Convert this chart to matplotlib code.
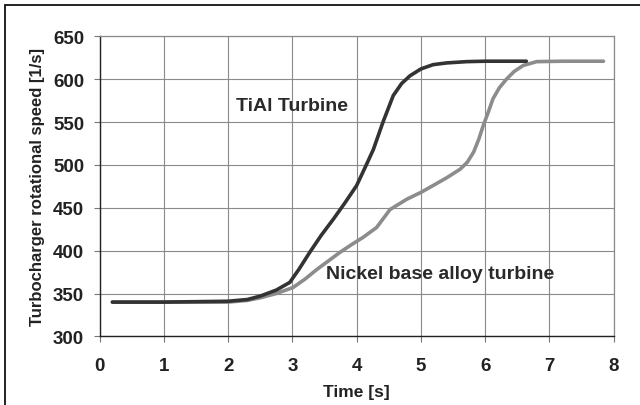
import matplotlib.pyplot as plt
from matplotlib.patches import Rectangle

plt.rcParams['font.family'] = ['Liberation Sans', 'DejaVu Sans']

# TiAl turbine run-up
tial_t = [0.2, 1.0, 2.0, 2.3, 2.5, 2.75, 2.96, 3.1, 3.27, 3.45, 3.64, 3.82, 4.0,
          4.15, 4.26, 4.41, 4.57, 4.7, 4.83, 5.0, 5.19, 5.4, 5.71, 6.0, 6.64]
tial_v = [340, 340, 341, 343, 347, 354, 363, 378, 398, 418, 437, 456, 476,
          500, 518, 550, 581, 595, 604, 612, 617, 619, 620.5, 621, 621]

# Nickel base alloy turbine
ni_t = [0.2, 1.0, 2.0, 2.3, 2.5, 2.75, 3.01, 3.2, 3.38, 3.56, 3.74, 3.92, 4.10,
        4.31, 4.52, 4.78, 5.0, 5.19, 5.4, 5.61, 5.72, 5.82, 5.9, 5.97, 6.05,
        6.12, 6.22, 6.33, 6.45, 6.59, 6.8, 7.2, 7.84]
ni_v = [340, 340, 340, 342, 345, 350, 357, 367, 378, 388, 398, 407, 415.5,
        427, 448, 460, 468, 476, 485, 495, 503, 515, 530, 546, 562,
        577, 590, 600, 609, 616, 620.5, 621, 621]

x_ticks = [0, 1, 2, 3, 4, 5, 6, 7, 8]
y_ticks = [300, 350, 400, 450, 500, 550, 600, 650]

fig = plt.figure(figsize=(6.4, 4.06), dpi=100)
ax = fig.add_axes([0.1555, 0.169, 0.8035, 0.739])

ax.plot(ni_t, ni_v, color='#8c8c8c', lw=2.6, solid_capstyle='round', zorder=3)
ax.plot(tial_t, tial_v, color='#333333', lw=2.6, solid_capstyle='round', zorder=4)

ax.set_xlim(0, 8)
ax.set_ylim(300, 650)
ax.set_xticks(x_ticks)
ax.set_yticks(y_ticks)
ax.grid(True, color='#8a8a8a', lw=0.8)
ax.set_axisbelow(True)

for side in ['top', 'right']:
    ax.spines[side].set_color('#8a8a8a')
    ax.spines[side].set_linewidth(0.9)
for side in ['left', 'bottom']:
    ax.spines[side].set_color('#222222')
    ax.spines[side].set_linewidth(1.0)

ax.tick_params(axis='both', length=4, width=0.8, color='#777777',
               labelsize=13.5, pad=7)
ax.tick_params(axis='x', pad=11)
for lab in ax.get_xticklabels() + ax.get_yticklabels():
    lab.set_fontweight('bold')
    lab.set_color('#222222')

ax.set_xlabel('Time [s]', fontsize=12.5, fontweight='bold', color='#222222', labelpad=7)
ax.set_ylabel('Turbocharger rotational speed [1/s]', fontsize=12,
              fontweight='bold', color='#222222', labelpad=6)

ax.text(2.13, 569, 'TiAl Turbine', fontsize=14, fontweight='bold',
        color='#2a2a2a', va='center', ha='left')
ax.text(3.53, 373, 'Nickel base alloy turbine', fontsize=14, fontweight='bold',
        color='#2a2a2a', va='center', ha='left')

# outer frame of the scanned chart box
fig.patches.append(Rectangle((5 / 640, -0.1), 1.2, 1 - 6 / 406 + 0.1,
                             transform=fig.transFigure, fill=False,
                             edgecolor='#111111', lw=1.3))

fig.savefig('out.png', dpi=100)
